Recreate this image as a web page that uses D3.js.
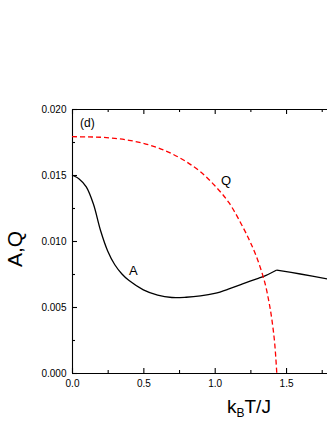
<!DOCTYPE html>
<html>
<head>
<meta charset="utf-8">
<script src="https://cdn.jsdelivr.net/npm/d3@7"></script>
<style>
  body { margin: 0; background: #fff; }
  svg { display: block; font-family: "Liberation Sans", Arial, sans-serif; }
</style>
</head>
<body>
<div id="chart"></div>
<script>
// temperature grid (k_B T / J) and the two curves
const tA = [0, 0.05, 0.1, 0.15, 0.2, 0.25, 0.3, 0.35, 0.4, 0.5, 0.6, 0.7, 0.8, 0.9, 1.0, 1.1, 1.2, 1.3, 1.36, 1.435];
const valA = [0.0150, 0.0147, 0.0141, 0.0128, 0.0108, 0.00925, 0.0082, 0.0075, 0.0070, 0.0063, 0.0059, 0.00572, 0.00574, 0.00584, 0.00603, 0.00637, 0.00677, 0.00715, 0.0074, 0.0078];
// above the transition A falls off again
const tA2 = [1.435, 1.6, 1.8];
const valA2 = [0.0078, 0.0075, 0.0071];

const tQ = [0, 0.1, 0.2, 0.3, 0.4, 0.5, 0.6, 0.7, 0.8, 0.9, 1.0, 1.1, 1.2, 1.25, 1.3, 1.35, 1.38, 1.4, 1.42, 1.435];
const valQ = [0.0179, 0.01789, 0.01786, 0.01778, 0.01763, 0.0174, 0.01707, 0.01661, 0.01601, 0.01525, 0.0142, 0.0129, 0.0110, 0.0099, 0.0086, 0.0069, 0.0054, 0.0041, 0.0023, 0];

const xMajor = [0, 0.5, 1.0, 1.5, 2.0];
const xMinor = [0.25, 0.75, 1.25, 1.75];
const yMajor = [0, 0.005, 0.010, 0.015, 0.020];
const yMinor = [0.0025, 0.0075, 0.0125, 0.0175];

const W = 327, H = 423;
const svg = d3.select("#chart").append("svg")
  .attr("width", W)
  .attr("height", H);

const x = d3.scaleLinear().domain([0, 2.0]).range([72, 357.4]);
const y = d3.scaleLinear().domain([0, 0.020]).range([373, 109]);

const axisStyle = g => {
  g.selectAll("path, line").attr("stroke", "#000").attr("stroke-width", 1.1);
  g.selectAll("text").attr("fill", "#000").style("font-size", "10px");
};

// bottom axis (2.0 lies past the window edge, so no label for it)
svg.append("g")
  .attr("transform", `translate(0,${y(0)})`)
  .call(d3.axisBottom(x).tickValues(xMajor).tickSize(-5).tickSizeOuter(0).tickPadding(7)
    .tickFormat(d => d < 1.9 ? d3.format(".1f")(d) : ""))
  .call(axisStyle);
svg.append("g")
  .attr("transform", `translate(0,${y(0)})`)
  .call(d3.axisBottom(x).tickValues(xMinor).tickSize(-3).tickFormat(""))
  .call(g => g.select(".domain").remove())
  .call(axisStyle);

// top axis
svg.append("g")
  .attr("transform", `translate(0,${y(0.020)})`)
  .call(d3.axisTop(x).tickValues(xMajor).tickSize(-5).tickSizeOuter(0).tickFormat(""))
  .call(axisStyle);
svg.append("g")
  .attr("transform", `translate(0,${y(0.020)})`)
  .call(d3.axisTop(x).tickValues(xMinor).tickSize(-3).tickFormat(""))
  .call(g => g.select(".domain").remove())
  .call(axisStyle);

// left axis
svg.append("g")
  .attr("transform", `translate(${x(0)},0)`)
  .call(d3.axisLeft(y).tickValues(yMajor).tickSize(-5).tickSizeOuter(0).tickPadding(5.5).tickFormat(d3.format(".3f")))
  .call(axisStyle);
svg.append("g")
  .attr("transform", `translate(${x(0)},0)`)
  .call(d3.axisLeft(y).tickValues(yMinor).tickSize(-3).tickFormat(""))
  .call(g => g.select(".domain").remove())
  .call(axisStyle);

// curves
const line = d3.line().curve(d3.curveCatmullRom.alpha(0.5));

[[tA, valA], [tA2, valA2]].forEach(([ts, vs]) => {
  svg.append("path")
    .attr("d", line(ts.map((t, i) => [x(t), y(vs[i])])))
    .attr("fill", "none")
    .attr("stroke", "#000")
    .attr("stroke-width", 1.3);
});

svg.append("path")
  .attr("d", line(tQ.map((t, i) => [x(t), y(valQ[i])])))
  .attr("fill", "none")
  .attr("stroke", "#ff0000")
  .attr("stroke-width", 1.3)
  .attr("stroke-dasharray", "5,3");

// labels
svg.append("text").attr("x", 80).attr("y", 127).style("font-size", "12px").text("(d)");
svg.append("text").attr("x", 221).attr("y", 184.5).style("font-size", "13px").text("Q");
svg.append("text").attr("x", 129).attr("y", 275).style("font-size", "13px").text("A");

// axis titles
svg.append("text")
  .attr("transform", "translate(22,249) rotate(-90)")
  .attr("text-anchor", "middle")
  .style("font-size", "21px")
  .text("A,Q");

const xt = svg.append("text")
  .attr("x", 227)
  .attr("y", 413)
  .style("font-size", "19px");
xt.append("tspan").text("k");
xt.append("tspan").attr("dy", 4).style("font-size", "12px").text("B");
xt.append("tspan").attr("dy", -4).text("T/J");
</script>
</body>
</html>
